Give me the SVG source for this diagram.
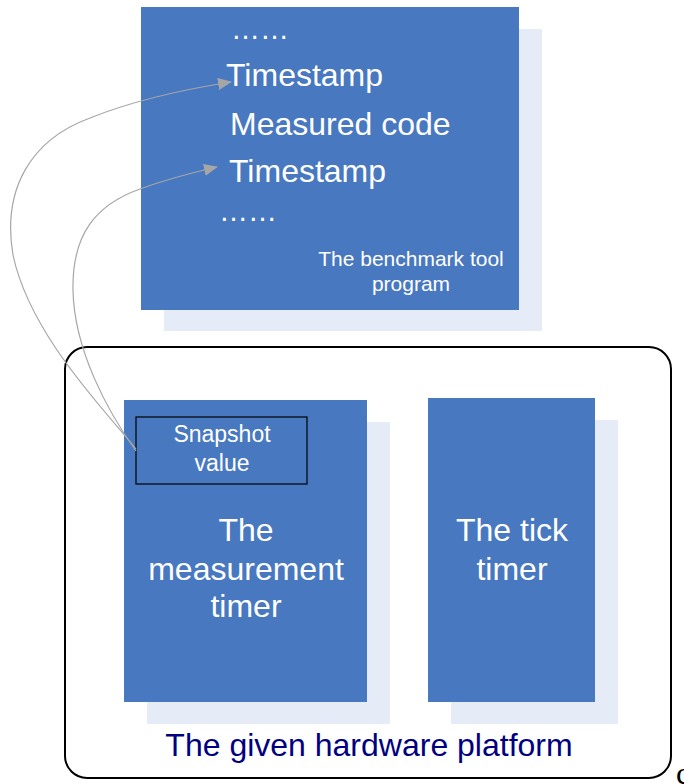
<svg xmlns="http://www.w3.org/2000/svg" width="684" height="784" viewBox="0 0 684 784">
<style>
.blk{fill:#4878C0}
.shd{fill:#E6ECF7}
.w{fill:#FFFFFF;font-family:"Liberation Sans",Arial,sans-serif}
.big{font-size:32px}
.con{fill:none;stroke:#A6A6A6;stroke-width:1.2}
</style>
<defs>
<marker id="ah" markerWidth="14" markerHeight="12" refX="13" refY="6" orient="auto" markerUnits="userSpaceOnUse">
<path d="M0,0 L14,6 L0,12 Z" fill="#A6A6A6"/>
</marker>
</defs>
<rect width="684" height="784" fill="#FFFFFF"/>
<g id="platform">
<rect x="65" y="347" width="606" height="431" rx="22" ry="22" fill="none" stroke="#000" stroke-width="2"/>
<text x="369" y="756" text-anchor="middle" font-family="Liberation Sans,Arial,sans-serif" font-size="32" fill="#000080">The given hardware platform</text>
</g>
<g id="benchmark">
<rect class="shd" x="164" y="29" width="378" height="302"/>
<rect class="blk" x="141" y="7" width="378" height="303"/>
<text class="w" x="231" y="39" font-size="29">……</text>
<text class="w big" x="226" y="86">Timestamp</text>
<text class="w big" x="230" y="135">Measured code</text>
<text class="w big" x="229" y="182">Timestamp</text>
<text class="w" x="219" y="221" font-size="29">……</text>
<text class="w" x="411" y="266" font-size="21" text-anchor="middle">The benchmark tool</text>
<text class="w" x="411" y="291" font-size="21" text-anchor="middle">program</text>
</g>
<g id="measurement">
<rect class="shd" x="147" y="422" width="243" height="302"/>
<rect class="blk" x="124" y="400" width="243" height="302"/>
<text class="w big" x="246" y="541" text-anchor="middle">The</text>
<text class="w big" x="246" y="580" text-anchor="middle">measurement</text>
<text class="w big" x="246" y="617" text-anchor="middle">timer</text>
</g>
<g id="snapshot">
<rect x="136" y="417" width="171" height="67" fill="none" stroke="#000" stroke-width="1.2"/>
<text class="w" x="222" y="442" font-size="23" text-anchor="middle">Snapshot</text>
<text class="w" x="222" y="471" font-size="23" text-anchor="middle">value</text>
</g>
<g id="tick">
<rect class="shd" x="451" y="420" width="167" height="304"/>
<rect class="blk" x="428" y="398" width="167" height="304"/>
<text class="w big" x="512" y="541" text-anchor="middle">The tick</text>
<text class="w big" x="512" y="580" text-anchor="middle">timer</text>
</g>
<g id="connectors">
<path class="con" d="M136,449 C105,410 30,335 13,255 C2,190 30,140 90,118 C130,102 180,90 231,82" marker-end="url(#ah)"/>
<path class="con" d="M136,451 C108,412 74,350 73,290 C72,235 95,205 140,189 C170,178 195,172 217,167" marker-end="url(#ah)"/>
</g>
<text x="676" y="784" font-family="Liberation Serif,Times New Roman,serif" font-size="32" fill="#000">c</text>
</svg>
